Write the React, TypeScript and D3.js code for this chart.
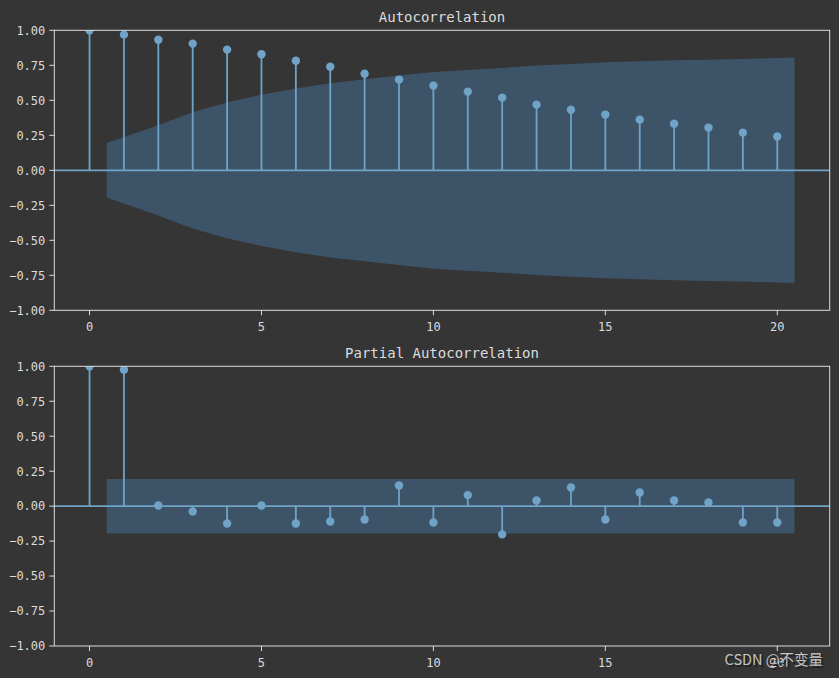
import * as d3 from 'd3';

// lags shown on both panels
const lags = [0, 1, 2, 3, 4, 5, 6, 7, 8, 9, 10, 11, 12, 13, 14, 15, 16, 17, 18, 19, 20];

// autocorrelation per lag
const acfValues = [
  1.0, 0.969, 0.933, 0.905, 0.862, 0.829, 0.783, 0.74, 0.69, 0.648, 0.605,
  0.562, 0.519, 0.469, 0.433, 0.398, 0.362, 0.333, 0.305, 0.269, 0.241,
];
// half width of the confidence band, lags 1..20
const acfBand = [
  0.195, 0.322, 0.415, 0.485, 0.54, 0.585, 0.622, 0.65, 0.677, 0.703,
  0.717, 0.731, 0.748, 0.76, 0.771, 0.779, 0.786, 0.79, 0.795, 0.805,
];

const pacfValues = [
  1.0, 0.976, 0.005, -0.038, -0.124, 0.005, -0.124, -0.11, -0.095, 0.148, -0.117,
  0.079, -0.202, 0.04, 0.133, -0.095, 0.098, 0.04, 0.026, -0.117, -0.117,
];
const pacfBand = [
  0.195, 0.195, 0.195, 0.195, 0.195, 0.195, 0.195, 0.195, 0.195, 0.195,
  0.195, 0.195, 0.195, 0.195, 0.195, 0.195, 0.195, 0.195, 0.195, 0.195,
];

const xTicks = [0, 5, 10, 15, 20];
const yTicks = [-1, -0.75, -0.5, -0.25, 0, 0.25, 0.5, 0.75, 1];

const W = 839;
const H = 678;
const BG = '#353535';
const STEM = '#70a3c8';
const BAND = '#3d5468';
const FG = '#dcdcdc';
const MONO = '"DejaVu Sans Mono", "Liberation Mono", monospace';

type PanelProps = {
  id: string;
  title: string;
  values: number[];
  band: number[];
  top: number;
  bottom: number;
};

function Panel({ id, title, values, band, top, bottom }: PanelProps) {
  const left = 54.3;
  const right = 829.7;

  const x = d3.scaleLinear().domain([-1.025, 21.525]).range([left, right]);
  const y = d3.scaleLinear().domain([-1, 1]).range([bottom, top]);

  // band spans 0.5 .. 20.5 like statsmodels does
  const bandLags = lags.slice(1).map((l, i, arr) =>
    i === 0 ? l - 0.5 : i === arr.length - 1 ? l + 0.5 : l
  );
  const bandData = bandLags.map((l, i) => ({ lag: l, h: band[i] }));

  const area = d3
    .area<{ lag: number; h: number }>()
    .x((d) => x(d.lag))
    .y0((d) => y(-d.h))
    .y1((d) => y(d.h));

  const fmt = (v: number) => d3.format('.2f')(v).replace('-', '\u2212');

  return (
    <g>
      <defs>
        <clipPath id={id}>
          <rect x={left} y={top} width={right - left} height={bottom - top} />
        </clipPath>
      </defs>

      <g clipPath={`url(#${id})`}>
        <path d={area(bandData) ?? ''} fill={BAND} />
        {lags.map((l, i) => (
          <line
            key={l}
            x1={x(l)}
            x2={x(l)}
            y1={y(0)}
            y2={y(values[i])}
            stroke={STEM}
            strokeWidth={1.8}
          />
        ))}
        <line x1={left} x2={right} y1={y(0)} y2={y(0)} stroke={STEM} strokeWidth={1.7} />
        {lags.map((l, i) => (
          <circle key={l} cx={x(l)} cy={y(values[i])} r={4.2} fill={STEM} />
        ))}
      </g>

      <rect
        x={left}
        y={top}
        width={right - left}
        height={bottom - top}
        fill="none"
        stroke={FG}
        strokeWidth={1}
      />

      {yTicks.map((t) => (
        <g key={t}>
          <line x1={left - 5} x2={left} y1={y(t)} y2={y(t)} stroke={FG} strokeWidth={1} />
          <text
            x={left - 9}
            y={y(t)}
            dy="0.36em"
            textAnchor="end"
            fontFamily={MONO}
            fontSize={12}
            fill={FG}
          >
            {fmt(t)}
          </text>
        </g>
      ))}

      {xTicks.map((t) => (
        <g key={t}>
          <line x1={x(t)} x2={x(t)} y1={bottom} y2={bottom + 5} stroke={FG} strokeWidth={1} />
          <text
            x={x(t)}
            y={bottom + 21}
            textAnchor="middle"
            fontFamily={MONO}
            fontSize={12}
            fill={FG}
          >
            {t}
          </text>
        </g>
      ))}

      <text
        x={(left + right) / 2}
        y={top - 8.5}
        textAnchor="middle"
        fontFamily={MONO}
        fontSize={14}
        fill={FG}
      >
        {title}
      </text>
    </g>
  );
}

export default function App() {
  return (
    <svg
      width={W}
      height={H}
      style={{ position: 'absolute', left: 0, top: 0, display: 'block' }}
    >
      <rect width={W} height={H} fill={BG} />
      <Panel id="clip-acf" title="Autocorrelation" values={acfValues} band={acfBand} top={30.3} bottom={310.3} />
      <Panel
        id="clip-pacf"
        title="Partial Autocorrelation"
        values={pacfValues}
        band={pacfBand}
        top={366.3}
        bottom={646}
      />
      {/* watermark sits over the "20" tick, as in the source image */}
      <text
        x={824}
        y={666}
        textAnchor="end"
        fontFamily='"Noto Sans CJK SC", "Noto Sans", sans-serif'
        fontSize={14.5}
        fill="#202020"
        transform="translate(1,1)"
      >
        CSDN @不变量
      </text>
      <text
        x={823}
        y={665}
        textAnchor="end"
        fontFamily='"Noto Sans CJK SC", "Noto Sans", sans-serif'
        fontSize={14.5}
        fill="#c4c4c4"
      >
        CSDN @不变量
      </text>
    </svg>
  );
}
